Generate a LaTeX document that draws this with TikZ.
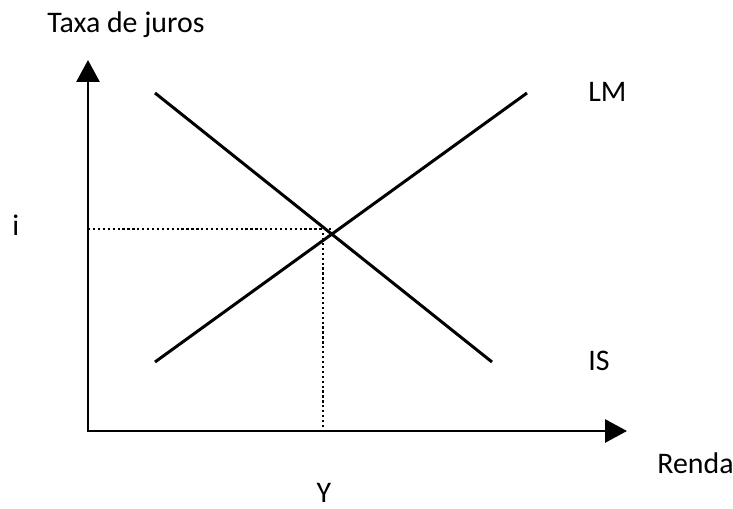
\documentclass[tikz,border=0pt]{standalone}
\usepackage{fontspec}
\setmainfont{Carlito}
\usetikzlibrary{arrows.meta,positioning,calc}

\begin{document}
\begin{tikzpicture}[x=0.02cm,y=-0.02cm,>={Triangle[length=0.44cm,width=0.46cm]},
    every node/.style={font=\fontsize{17}{20}\selectfont,inner sep=0pt,anchor=base west},
    curve/.style={line width=1.7pt},
    guide/.style={line width=0.9pt,dash pattern=on 1.3pt off 1.5pt}]
  \useasboundingbox (0,0) rectangle (733,509);
  \coordinate (o) at (88,431);
  \coordinate (ytop) at (88,60);
  \coordinate (xend) at (627,431);
  \coordinate (lmA) at (155,362);
  \coordinate (lmB) at (527,93);
  \coordinate (isA) at (155,93);
  \coordinate (isB) at (492,362);
  \coordinate (iy) at (88,229);
  \coordinate (eq) at (331,229);
  \coordinate (yt) at (323,233);
  \coordinate (yb) at (323,431);

  % axes
  \draw[curve,<->,line join=miter] (ytop) |- (xend);

  % IS and LM
  \draw[curve] (lmA) -- (lmB);
  \draw[curve] (isA) -- (isB);

  % equilibrium guides
  \draw[guide] (iy) -- (eq);
  \draw[guide] (yt) -- (yb);

  \node (taxa) at (47,33) {Taxa de juros};
  \node (lm) at (588,102) {LM};
  \node (is) at (588,371) {IS};
  \node (i) at (12,236) {i};
  \node (renda) at (657,473) {Renda};
  \node[anchor=base] (y) at (324,502) {Y};
\end{tikzpicture}
\end{document}
